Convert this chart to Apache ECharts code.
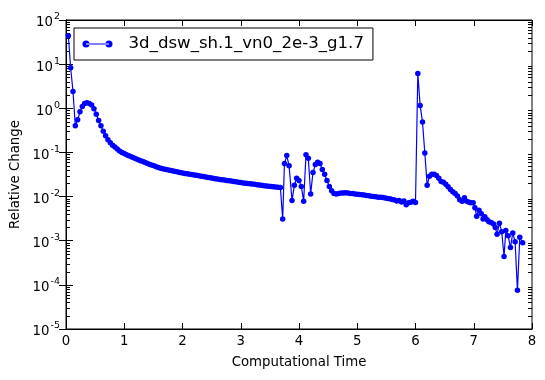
<!DOCTYPE html>
<html><head><meta charset="utf-8">
<script src="https://cdn.jsdelivr.net/npm/echarts@6/dist/echarts.min.js"></script>
<style>html,body{margin:0;padding:0;background:#fff}#c{width:545px;height:380px}</style>
</head><body><div id="c"></div>
<script>
const seriesName = '3d_dsw_sh.1_vn0_2e-3_g1.7';
const xTicks = [0,1,2,3,4,5,6,7,8];
const yDecades = [1e-5,1e-4,1e-3,1e-2,1e-1,1,10,100];
const times = [0.04,0.08,0.12,0.16,0.20,0.24,0.28,0.32,0.36,0.40,0.44,0.48,0.52,0.56,0.60,0.64,0.68,0.72,0.76,0.80,0.84,0.88,0.92,0.96,1.00,1.04,1.08,1.12,1.16,1.20,1.24,1.28,1.32,1.36,1.40,1.44,1.48,1.52,1.56,1.60,1.64,1.68,1.72,1.76,1.80,1.84,1.88,1.92,1.96,2.00,2.04,2.08,2.12,2.16,2.20,2.24,2.28,2.32,2.36,2.40,2.44,2.48,2.52,2.56,2.60,2.64,2.68,2.72,2.76,2.80,2.84,2.88,2.92,2.96,3.00,3.04,3.08,3.12,3.16,3.20,3.24,3.28,3.32,3.36,3.40,3.44,3.48,3.52,3.56,3.60,3.64,3.68,3.72,3.75,3.79,3.83,3.88,3.92,3.96,4.00,4.04,4.08,4.12,4.16,4.20,4.24,4.28,4.32,4.36,4.40,4.44,4.48,4.52,4.56,4.60,4.64,4.68,4.72,4.76,4.80,4.84,4.88,4.92,4.96,5.00,5.04,5.08,5.12,5.16,5.20,5.24,5.28,5.32,5.36,5.40,5.44,5.48,5.52,5.56,5.60,5.64,5.68,5.72,5.76,5.80,5.84,5.88,5.92,5.96,6.00,6.04,6.08,6.12,6.16,6.20,6.24,6.28,6.32,6.36,6.40,6.44,6.48,6.52,6.56,6.60,6.64,6.68,6.72,6.76,6.80,6.84,6.88,6.92,6.95,6.99,7.02,7.05,7.09,7.13,7.16,7.19,7.23,7.26,7.30,7.34,7.37,7.40,7.44,7.48,7.52,7.55,7.59,7.63,7.67,7.71,7.75,7.79,7.84];
const relChange = [44,8.3,2.4,0.40,0.55,0.83,1.1,1.28,1.33,1.28,1.18,0.98,0.73,0.53,0.40,0.30,0.24,0.195,0.165,0.145,0.132,0.12,0.108,0.10,0.094,0.089,0.084,0.080,0.076,0.072,0.068,0.065,0.062,0.059,0.056,0.053,0.051,0.049,0.047,0.045,0.043,0.042,0.041,0.040,0.039,0.038,0.037,0.036,0.035,0.034,0.0335,0.033,0.032,0.0315,0.031,0.0303,0.0297,0.029,0.0284,0.0278,0.0272,0.0266,0.026,0.0255,0.025,0.0245,0.024,0.0236,0.0232,0.0228,0.0224,0.022,0.0216,0.0212,0.0208,0.0204,0.0201,0.0198,0.0195,0.0192,0.0189,0.0186,0.0183,0.018,0.0177,0.0174,0.0171,0.0169,0.0167,0.0165,0.0163,0.0161,0.0031,0.056,0.085,0.05,0.0081,0.018,0.026,0.023,0.017,0.0078,0.089,0.074,0.0115,0.035,0.053,0.06,0.056,0.041,0.032,0.023,0.017,0.0135,0.0117,0.0115,0.0117,0.012,0.0121,0.0122,0.012,0.0118,0.0117,0.0115,0.0113,0.0111,0.011,0.0108,0.0106,0.0104,0.0102,0.0101,0.0099,0.0097,0.0096,0.0095,0.0093,0.0091,0.0089,0.0086,0.0084,0.0079,0.0082,0.0075,0.0079,0.0065,0.0072,0.0074,0.0078,0.0073,6.1,1.15,0.49,0.097,0.018,0.029,0.032,0.032,0.030,0.026,0.022,0.021,0.019,0.0166,0.0145,0.0128,0.0118,0.0103,0.0085,0.0078,0.0094,0.0078,0.0074,0.0072,0.0072,0.0056,0.0036,0.0049,0.0041,0.0031,0.0035,0.0030,0.0027,0.0026,0.0024,0.0020,0.0014,0.0025,0.0016,0.00044,0.0017,0.0013,0.0007,0.0015,0.00095,0.000075,0.0012,0.0009];

const FONT = 'DejaVu Sans';
const BLUE = '#0000ff';
const lineData = times.map((t, i) => [t, relChange[i]]);

// minor log ticks (2..9 in each decade) drawn through the y scale
const minorTicks = [];
yDecades.slice(0, -1).forEach(d => { for (let k = 2; k <= 9; k++) minorTicks.push([0, d * k]); });

const yLabel = v => {
  const e = Math.round(Math.log10(v));
  return '{b|10}{s|' + e + '}';
};

const chart = echarts.init(document.getElementById('c'), null, {renderer: 'canvas'});
chart.setOption({
  animation: false,
  backgroundColor: '#fff',
  grid: {left: 66, top: 20, width: 466, height: 309, show: true, borderColor: '#000', borderWidth: 1, backgroundColor: 'transparent'},
  legend: {
    data: [seriesName],
    left: 74, top: 28,
    orient: 'vertical',
    borderColor: '#000', borderWidth: 1, borderRadius: 0,
    padding: [6, 9, 6, 8.5],
    itemWidth: 30, itemHeight: 7,
    icon: 'path://M3.5,0A3.5,3.5,0,1,0,3.5,7A3.5,3.5,0,1,0,3.5,0ZM3.5,3L26.5,3L26.5,4L3.5,4ZM26.5,0A3.5,3.5,0,1,0,26.5,7A3.5,3.5,0,1,0,26.5,0Z',
    textStyle: {fontFamily: FONT, fontSize: 16.6, color: '#000', lineHeight: 20, padding: [0, 0, 0, 11]},
    backgroundColor: '#fff'
  },
  xAxis: [{
    type: 'value', min: xTicks[0], max: xTicks[xTicks.length - 1], interval: 1,
    position: 'bottom',
    name: 'Computational Time', nameLocation: 'middle', nameGap: 27,
    nameTextStyle: {fontFamily: FONT, fontSize: 13.3, color: '#000'},
    axisLine: {show: true, lineStyle: {color: '#000', width: 1}},
    axisTick: {show: true, inside: true, length: 6, lineStyle: {color: '#000'}},
    axisLabel: {fontFamily: FONT, fontSize: 13.3, color: '#000', margin: 6},
    splitLine: {show: false}
  }, {
    type: 'value', min: xTicks[0], max: xTicks[xTicks.length - 1], interval: 1,
    position: 'top',
    axisLine: {show: true, lineStyle: {color: '#000', width: 1}},
    axisTick: {show: true, inside: true, length: 6, lineStyle: {color: '#000'}},
    axisLabel: {show: false},
    splitLine: {show: false}
  }],
  yAxis: [{
    type: 'log', logBase: 10, min: yDecades[0], max: yDecades[yDecades.length - 1],
    position: 'left',
    name: 'Relative Change', nameLocation: 'middle', nameGap: 41,
    nameTextStyle: {fontFamily: FONT, fontSize: 13.3, color: '#000'},
    axisLine: {show: true, lineStyle: {color: '#000', width: 1}},
    axisTick: {show: true, inside: true, length: 7, lineStyle: {color: '#000'}},
    axisLabel: {
      fontFamily: FONT, color: '#000', margin: 6, formatter: yLabel,
      rich: {
        b: {fontFamily: FONT, fontSize: 13.3, color: '#000', padding: [6, 0, 0, 0]},
        s: {fontFamily: FONT, fontSize: 9.5, color: '#000', padding: [0, 0, 6, 1]}
      }
    },
    splitLine: {show: false}
  }, {
    type: 'log', logBase: 10, min: yDecades[0], max: yDecades[yDecades.length - 1],
    position: 'right',
    axisLine: {show: true, lineStyle: {color: '#000', width: 1}},
    axisTick: {show: true, inside: true, length: 7, lineStyle: {color: '#000'}},
    axisLabel: {show: false},
    splitLine: {show: false}
  }],
  series: [{
    name: seriesName,
    type: 'line',
    xAxisIndex: 0, yAxisIndex: 0,
    data: lineData,
    symbol: 'circle', symbolSize: 5.5, showAllSymbol: true,
    lineStyle: {color: BLUE, width: 1.2},
    itemStyle: {color: BLUE, borderWidth: 0},
    emphasis: {disabled: true},
    z: 3
  }, {
    name: 'minorTicks',
    type: 'custom',
    xAxisIndex: 0, yAxisIndex: 0,
    data: minorTicks,
    silent: true,
    renderItem: (params, api) => {
      const cs = params.coordSys;
      const y = Math.round(api.coord([0, api.value(1)])[1]) + 0.5;
      const x0 = cs.x, x1 = cs.x + cs.width;
      return {type: 'group', children: [
        {type: 'line', shape: {x1: x0, y1: y, x2: x0 + 4, y2: y}, style: {stroke: '#000', lineWidth: 1}},
        {type: 'line', shape: {x1: x1 - 4, y1: y, x2: x1, y2: y}, style: {stroke: '#000', lineWidth: 1}}
      ]};
    },
    z: 2
  }]
});
</script></body></html>
